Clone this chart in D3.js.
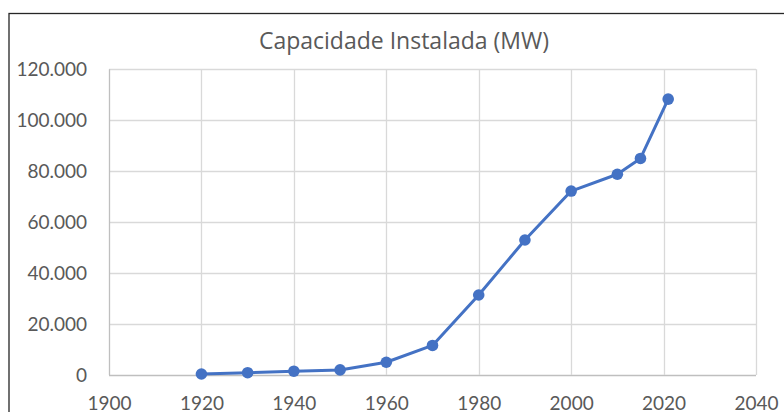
<!DOCTYPE html>
<html><head><meta charset="utf-8">
<script src="https://cdn.jsdelivr.net/npm/d3@7"></script>
<style>body{margin:0;background:#fff;}svg{display:block;}</style>
</head><body>
<script>
const years = [1920, 1930, 1940, 1950, 1960, 1970, 1980, 1990, 2000, 2010, 2015, 2021];
const capacity = [400, 900, 1500, 2000, 5000, 11600, 31400, 53000, 72200, 78800, 85000, 108300];
const xTicks = [1900, 1920, 1940, 1960, 1980, 2000, 2020, 2040];
const yTicks = [0, 20000, 40000, 60000, 80000, 100000, 120000];
const title = "Capacidade Instalada (MW)";

const W = 784, H = 412;
const m = {left: 109, right: 28, top: 69.3, bottom: 37};
const svg = d3.select("body").append("svg").attr("width", W).attr("height", H);
const font = "Lato, 'Open Sans', sans-serif";

svg.append("rect").attr("x", 9).attr("y", 13.5).attr("width", 820).attr("height", 430)
  .attr("fill", "#fff").attr("stroke", "#262626").attr("stroke-width", 1.3);

const x = d3.scaleLinear().domain([1900, 2040]).range([m.left, W - m.right]);
const y = d3.scaleLinear().domain([0, 120000]).range([H - m.bottom, m.top]);

const fmt = v => v === 0 ? "0" : d3.format(",")(v).replace(/,/g, ".");

// grid
svg.append("g").selectAll("line").data(yTicks).join("line")
  .attr("x1", m.left).attr("x2", W - m.right)
  .attr("y1", d => Math.round(y(d)) + 0.5).attr("y2", d => Math.round(y(d)) + 0.5)
  .attr("stroke", d => d === 0 ? "#bfbfbf" : "#d9d9d9").attr("stroke-width", 1.3);
svg.append("g").selectAll("line").data(xTicks).join("line")
  .attr("y1", m.top).attr("y2", y(0))
  .attr("x1", d => Math.round(x(d)) + 0.5).attr("x2", d => Math.round(x(d)) + 0.5)
  .attr("stroke", d => d === 1900 ? "#bfbfbf" : "#d9d9d9").attr("stroke-width", 1.3);

// axis labels
const yAxis = d3.axisLeft(y).tickValues(yTicks).tickFormat(fmt).tickSize(0).tickPadding(22);
const gy = svg.append("g").attr("transform", `translate(${m.left},0)`).call(yAxis);
gy.select(".domain").remove();
gy.selectAll("text").attr("font-family", font).attr("font-size", 19).attr("fill", "#595959");

const xAxis = d3.axisBottom(x).tickValues(xTicks).tickFormat(d3.format("d")).tickSize(0).tickPadding(22);
const gx = svg.append("g").attr("transform", `translate(0,${y(0)})`).call(xAxis);
gx.select(".domain").remove();
gx.selectAll("text").attr("font-family", font).attr("font-size", 19).attr("fill", "#595959");

// title
svg.append("text").attr("x", 404).attr("y", 49.3).attr("text-anchor", "middle")
  .attr("font-family", "'Open Sans', sans-serif").attr("font-size", 23).attr("fill", "#595959").text(title);

const data = years.map((d, i) => ({year: d, v: capacity[i]}));
const line = d3.line().x(d => x(d.year)).y(d => y(d.v));
svg.append("path").datum(data).attr("d", line).attr("fill", "none")
  .attr("stroke", "#4472C4").attr("stroke-width", 3).attr("stroke-linejoin", "round");
svg.append("g").selectAll("circle").data(data).join("circle")
  .attr("cx", d => x(d.year)).attr("cy", d => y(d.v)).attr("r", 5.8).attr("fill", "#4472C4");
</script>
</body></html>
